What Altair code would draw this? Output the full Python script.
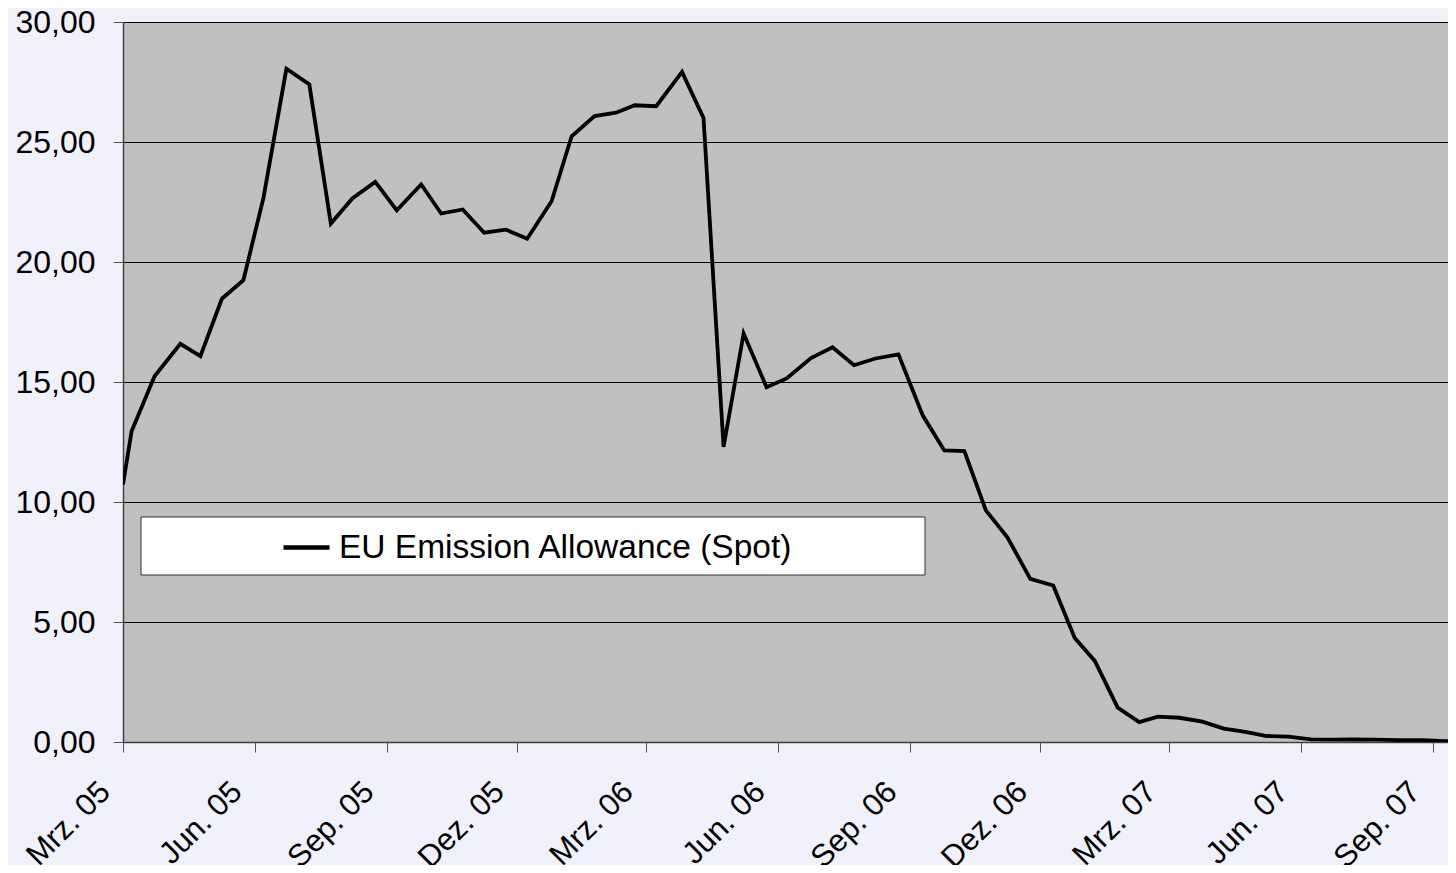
import json
import altair as alt
import pandas as pd

# ---- data ----
dates = [
    "2005-03-01", "2005-03-07", "2005-03-23", "2005-04-10", "2005-04-24", "2005-05-09",
    "2005-05-24", "2005-06-07", "2005-06-23", "2005-07-09", "2005-07-24", "2005-08-08",
    "2005-08-24", "2005-09-08", "2005-09-25", "2005-10-09", "2005-10-24", "2005-11-08",
    "2005-11-23", "2005-12-08", "2005-12-25", "2006-01-08", "2006-01-24", "2006-02-08",
    "2006-02-21", "2006-03-08", "2006-03-26", "2006-04-10", "2006-04-24", "2006-05-08",
    "2006-05-24", "2006-06-07", "2006-06-24", "2006-07-09", "2006-07-24", "2006-08-08",
    "2006-08-24", "2006-09-10", "2006-09-25", "2006-10-09", "2006-10-24", "2006-11-08",
    "2006-11-24", "2006-12-10", "2006-12-25", "2007-01-08", "2007-01-24", "2007-02-08",
    "2007-02-21", "2007-03-08", "2007-03-24", "2007-04-08", "2007-04-23", "2007-05-08",
    "2007-05-23", "2007-06-08", "2007-06-23", "2007-07-07", "2007-07-23", "2007-08-08",
    "2007-08-25", "2007-09-09", "2007-09-24",
]
values = [
    10.73, 12.95, 15.24, 16.59, 16.08, 18.47,
    19.24, 22.67, 28.05, 27.40, 21.60, 22.65,
    23.34, 22.15, 23.23, 22.02, 22.19, 21.22,
    21.35, 20.97, 22.53, 25.24, 26.08, 26.22,
    26.53, 26.49, 27.92, 26.00, 12.30, 17.02,
    14.78, 15.15, 16.00, 16.45, 15.70, 15.98,
    16.15, 13.60, 12.15, 12.12, 9.65, 8.53,
    6.80, 6.52, 4.33, 3.38, 1.43, 0.83,
    1.06, 1.01, 0.85, 0.56, 0.42, 0.25,
    0.22, 0.11, 0.10, 0.11, 0.10, 0.08,
    0.08, 0.04, 0.03,
]
series_name = "EU Emission Allowance (Spot)"

tick_dates = ["2005-03-01", "2005-06-01", "2005-09-01", "2005-12-01", "2006-03-01",
              "2006-06-01", "2006-09-01", "2006-12-01", "2007-03-01", "2007-06-01",
              "2007-09-01"]
tick_labels = ["Mrz. 05", "Jun. 05", "Sep. 05", "Dez. 05", "Mrz. 06", "Jun. 06",
               "Sep. 06", "Dez. 06", "Mrz. 07", "Jun. 07", "Sep. 07"]
y_ticks = [0, 5, 10, 15, 20, 25, 30]
x_domain = ["2005-03-01", "2007-09-11T10:00"]


def ms(s):
    return int(pd.Timestamp(s, tz="UTC").value // 10**6)


df = pd.DataFrame({"date": dates, "value": values, "series": series_name})

FONT = "Liberation Sans"

x_label_expr = (
    json.dumps(tick_labels)
    + "[round((utcyear(datum.value) - 2005) * 4 + (utcmonth(datum.value) - 2) / 3)]"
)

box = alt.Chart(pd.DataFrame({"k": [0]})).mark_rect(
    fill="white", stroke="#303030", strokeWidth=1
).encode(
    x=alt.value(18), x2=alt.value(802), y=alt.value(495), y2=alt.value(553)
)

line = alt.Chart(df).mark_line(strokeWidth=3.8, clip=True).encode(
    x=alt.X(
        "date:T",
        scale=alt.Scale(type="utc", domain=[ms(d) for d in x_domain]),
        axis=alt.Axis(
            title=None,
            values=[ms(d) for d in tick_dates],
            labelExpr=x_label_expr,
            labelAngle=-45,
            labelAlign="right",
            labelBaseline="middle",
            labelFontSize=31,
            labelPadding=35,
            labelOffset=-18,
            labelFlush=False,
            labelOverlap=False,
            labelBound=False,
            tickSize=10,
            tickColor="#555555",
            domainColor="#404040",
            domainWidth=1.5,
            grid=False,
        ),
    ),
    y=alt.Y(
        "value:Q",
        scale=alt.Scale(domain=[0, 30], nice=False, zero=True),
        axis=alt.Axis(
            title=None,
            values=y_ticks,
            labelExpr="replace(format(datum.value, '.2f'), '.', ',')",
            labelFontSize=32,
            labelPadding=18,
            tickSize=10,
            tickColor="#555555",
            domainColor="#404040",
            domainWidth=1.5,
            grid=True,
            gridColor="#000000",
            gridWidth=1,
        ),
    ),
    color=alt.Color(
        "series:N",
        scale=alt.Scale(range=["#000000"]),
        legend=alt.Legend(
            title=None,
            orient="none",
            legendX=158,
            legendY=500,
            symbolType="stroke",
            symbolSize=2116,
            symbolStrokeWidth=4.5,
            labelFontSize=33.5,
            labelFont=FONT,
            labelColor="#000000",
            labelOffset=7,
            labelLimit=800,
            padding=0,
        ),
    ),
)

chart = alt.layer(box, line).properties(
    width=1325,
    height=720,
    autosize=alt.AutoSizeParams(type="none"),
    padding={"left": 115, "top": 14, "right": 0, "bottom": 123},
    background="#F1F1FB",
).configure_view(
    fill="#C0C0C0", stroke="transparent"
).configure_axis(
    labelFont=FONT, labelColor="#000000"
)

chart.save("out.html", embed_options={"renderer": "svg", "actions": False})
